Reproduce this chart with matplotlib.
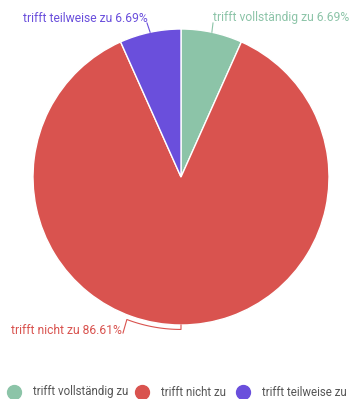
import numpy as np
import matplotlib
matplotlib.use("Agg")
import matplotlib.pyplot as plt

plt.rcParams["font.family"] = ["Roboto", "DejaVu Sans"]

labels = ["trifft vollständig zu", "trifft nicht zu", "trifft teilweise zu"]
shares = [6.69, 86.61, 6.69]
colors = ["#8cc4a8", "#d9534f", "#6a4fdc"]

W, H = 351, 399
cx, cy, r = 181, 177, 148
fs = 8.7

fig = plt.figure(figsize=(W / 100, H / 100), dpi=100)
ax = fig.add_axes([(cx - r) / W, (H - cy - r) / H, 2 * r / W, 2 * r / H])

wedges, _ = ax.pie(shares, colors=colors, startangle=90, counterclock=False,
                   radius=1, center=(0, 0),
                   wedgeprops=dict(edgecolor="white", linewidth=1))
ax.set_xlim(-1, 1)
ax.set_ylim(-1, 1)
ax.set_aspect("equal")
ax.axis("off")


def px(x, y):
    # figure pixel -> data coordinates of the pie axes
    return (x - cx) / r, (cy - y) / r


def mid_point(w, rad=1.0):
    a = np.deg2rad((w.theta1 + w.theta2) / 2)
    return rad * np.cos(a), rad * np.sin(a)


# green label, upper right
x0, y0 = mid_point(wedges[0])
lx, ly = px(213, 23)
tx, ty = px(213, 18)
ax.plot([x0, lx], [y0, ly], color=colors[0], lw=0.8, clip_on=False)
ax.text(tx, ty, f"{labels[0]} {shares[0]:.2f}%", color=colors[0],
        fontsize=fs, ha="left", va="center", clip_on=False)

# purple label, upper left
x0, y0 = mid_point(wedges[2])
lx, ly = px(147, 23)
tx, ty = px(148, 18)
ax.plot([x0, lx], [y0, ly], color=colors[2], lw=0.8, clip_on=False)
ax.text(tx, ty, f"{labels[2]} {shares[2]:.2f}%", color=colors[2],
        fontsize=fs, ha="right", va="center", clip_on=False)

# red label, bottom left, leader follows the rim
a_mid = np.deg2rad((wedges[1].theta1 + wedges[1].theta2) / 2)
arc = np.linspace(a_mid, np.deg2rad(-110.8), 30)
rx = [np.cos(a_mid)] + list(1.03 * np.cos(arc))
ry = [np.sin(a_mid)] + list(1.03 * np.sin(arc))
ex, ey = px(123, 333)
rx.append(ex)
ry.append(ey)
ax.plot(rx, ry, color=colors[1], lw=0.8, clip_on=False)
tx, ty = px(122, 330)
ax.text(tx, ty, f"{labels[1]} {shares[1]:.2f}%", color=colors[1],
        fontsize=fs, ha="right", va="center", clip_on=False)

# legend row along the bottom
legend_x = [14, 142, 243]
ly = 1 - 392 / H
for x, lab, c in zip(legend_x, labels, colors):
    fig.lines.append(plt.Line2D([x / W], [ly], marker="o", markersize=10,
                                color=c, ls="", transform=fig.transFigure))
    fig.text((x + 19) / W, ly, lab, fontsize=8.3, color="#555555",
             ha="left", va="center")

fig.savefig("out.png", dpi=100)
